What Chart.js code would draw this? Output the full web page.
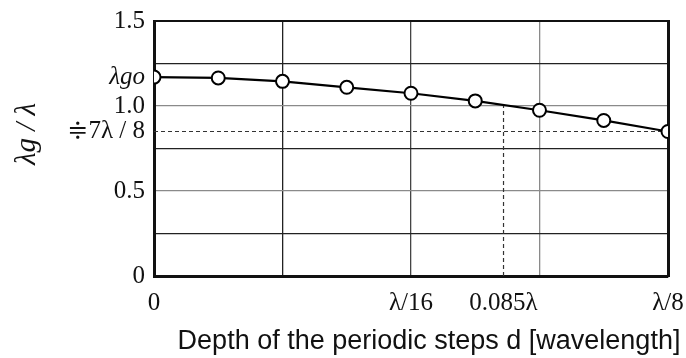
<!DOCTYPE html>
<html>
<head>
<meta charset="utf-8">
<script src="https://cdn.jsdelivr.net/npm/chart.js@4.4.1/dist/chart.umd.min.js"></script>
<style>
  html, body { margin: 0; padding: 0; background: #fff; }
  #wrap { width: 686px; height: 358px; }
</style>
</head>
<body>
<div id="wrap"><canvas id="c" width="686" height="358"></canvas></div>
<script>
// depth d in wavelengths, and the guide wavelength ratio lambda_g / lambda
const depth = [0, 0.015625, 0.03125, 0.046875, 0.0625, 0.078125, 0.09375, 0.109375, 0.125];
const ratio = [1.17, 1.165, 1.145, 1.11, 1.075, 1.03, 0.975, 0.915, 0.85];

// dashed guide lines (7λ/8 level and the 0.085λ crossing)
const guideH = [[0, 0.85], [0.125, 0.85]];
const guideV = [[0.085, 0], [0.085, 1.0]];

const xTicks = [0, 0.03125, 0.0625, 0.085, 0.09375, 0.125];
const xLabels = ['0', '', 'λ/16', '0.085λ', '', 'λ/8'];
const yTicks = [0, 0.25, 0.5, 0.75, 0.85, 1.0, 1.17, 1.25, 1.5];
const yLabels = ['0', '', '0.5', '', '≑7λ / 8', '1.0', 'λgo', '', '1.5'];
const X_TITLE = 'Depth of the periodic steps d [wavelength]';

const SERIF = "'Liberation Serif', 'DejaVu Serif', serif";
const SANS = "'Liberation Sans', Arial, sans-serif";
const pts = a => a.map(p => ({ x: p[0], y: p[1] }));

const xGrid = v => v === 0.085 ? 'rgba(0,0,0,0)' : v === 0.09375 ? '#8a8a8a' : v === 0.0625 ? '#444' : '#222';
const yGrid = v => v === 0.85 || v === 1.17 ? 'rgba(0,0,0,0)' : (v === 0.5 || v === 1.0) ? '#8a8a8a' : '#222';

// keep label overflow from shrinking the plot; layout padding handles it
const noOverflow = s => { s.paddingLeft = s.paddingRight = s.paddingTop = s.paddingBottom = 0; };

// x title sits a bit right of the axis centre and is wider than the axis,
// so draw it here instead of through title (which squeezes it to fit)
const xTitle = {
  id: 'xTitle',
  afterDraw(chart) {
    const s = chart.scales.x, ctx = chart.ctx;
    ctx.save();
    ctx.font = '27px ' + SANS;
    ctx.fillStyle = '#111';
    ctx.textAlign = 'center';
    ctx.textBaseline = 'middle';
    ctx.fillText(X_TITLE, (s.left + s.right) / 2 + 18, s.bottom - 16);
    ctx.restore();
  }
};

new Chart(document.getElementById('c'), {
  type: 'line',
  data: {
    datasets: [
      {
        data: depth.map((d, i) => ({ x: d, y: ratio[i] })),
        borderColor: '#000', borderWidth: 2.2,
        pointRadius: 6.5, pointBorderWidth: 2, pointBackgroundColor: '#fff', pointBorderColor: '#000',
        tension: 0, order: 0
      },
      { data: pts(guideH), borderColor: '#333', borderWidth: 1.2, borderDash: [4, 3], pointRadius: 0, order: 1 },
      { data: pts(guideV), borderColor: '#333', borderWidth: 1.2, borderDash: [4, 3], pointRadius: 0, order: 1 }
    ]
  },
  plugins: [xTitle],
  options: {
    responsive: false, animation: false,
    layout: { padding: { top: 21, right: 18, left: 0, bottom: 0 } },
    plugins: { legend: { display: false }, tooltip: { enabled: false } },
    scales: {
      x: {
        type: 'linear', min: 0, max: 0.125,
        afterBuildTicks: s => { s.ticks = xTicks.map(v => ({ value: v })); },
        afterFit: s => { s.height = 82; noOverflow(s); },
        ticks: {
          autoSkip: false, maxRotation: 0, padding: 12, color: '#111',
          font: { family: SERIF, size: 25 },
          callback: v => xLabels[xTicks.indexOf(v)]
        },
        grid: { color: c => xGrid(c.tick && c.tick.value), lineWidth: 1.3, drawTicks: false },
        border: { color: '#111', width: 3 }
      },
      y: {
        min: 0, max: 1.5,
        afterBuildTicks: s => { s.ticks = yTicks.map(v => ({ value: v })); },
        afterFit: s => { s.width = 154; noOverflow(s); },
        ticks: {
          autoSkip: false, padding: 9, color: '#111',
          font: c => ({ family: SERIF, size: 25, style: c.tick && c.tick.value === 1.17 ? 'italic' : 'normal' }),
          callback: v => yLabels[yTicks.indexOf(v)]
        },
        grid: { color: c => yGrid(c.tick && c.tick.value), lineWidth: 1.3, drawTicks: false },
        border: { color: '#111', width: 3 },
        title: {
          display: true, text: '    λg / λ', color: '#111',
          font: { family: SERIF, size: 29, style: 'italic' }, padding: { top: 10 }
        }
      },
      x2: {
        type: 'linear', position: 'top', min: 0, max: 0.125,
        afterFit: s => { s.height = 0; noOverflow(s); },
        ticks: { display: false }, grid: { display: false },
        border: { color: '#111', width: 2 }
      },
      y2: {
        position: 'right', min: 0, max: 1.5,
        afterFit: s => { s.width = 0; noOverflow(s); },
        ticks: { display: false }, grid: { display: false },
        border: { color: '#111', width: 3 }
      }
    }
  }
});
</script>
</body>
</html>
